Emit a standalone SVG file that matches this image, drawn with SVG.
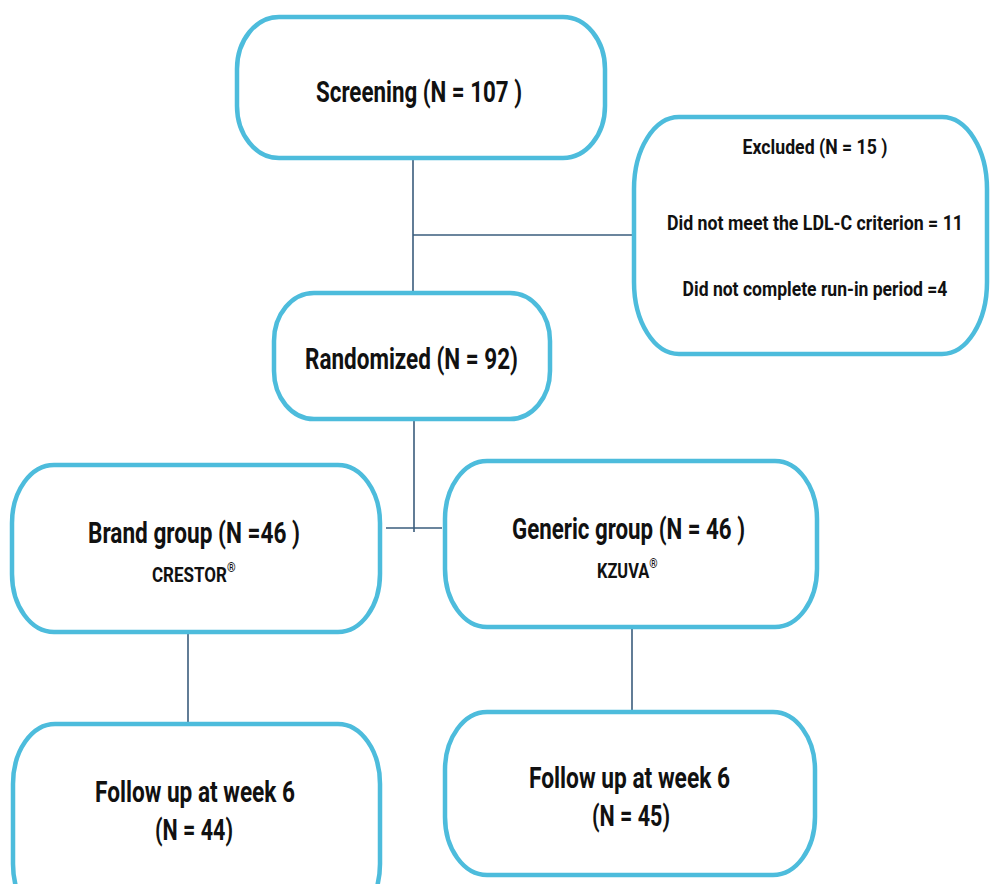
<svg xmlns="http://www.w3.org/2000/svg" width="990" height="884" viewBox="0 0 990 884">
<style>
.box{fill:#ffffff;stroke:#4dbcdc;stroke-width:4.5}
.t{font-family:Roboto,"Liberation Sans",sans-serif;font-weight:700;fill:#111111}
.c{stroke:#3a5c7c;stroke-width:1.6;fill:none}
</style>
<rect width="990" height="884" fill="#ffffff"/>
<g id="connectors">
<line class="c" x1="413" y1="158" x2="413" y2="295"/>
<line class="c" x1="413" y1="235" x2="634" y2="235"/>
<line class="c" x1="414" y1="419" x2="414" y2="532"/>
<line class="c" x1="386" y1="528" x2="442" y2="528"/>
<line class="c" x1="188" y1="632" x2="188" y2="724"/>
<line class="c" x1="632" y1="627" x2="632" y2="712"/>
</g>
<g id="screening">
<rect class="box" x="237" y="17" width="368" height="141" rx="42" ry="52"/>
<text class="t" x="316" y="102" font-size="30" textLength="206" lengthAdjust="spacingAndGlyphs">Screening (N = 107 )</text>
</g>
<g id="excluded">
<rect class="box" x="634" y="117" width="353" height="237" rx="45" ry="72"/>
<g transform="translate(815,0) scale(0.8,1)">
<text class="t" x="0" y="154" font-size="21" text-anchor="middle" textLength="181" lengthAdjust="spacingAndGlyphs">Excluded (N = 15 )</text>
<text class="t" x="0" y="230" font-size="21" text-anchor="middle" textLength="370" lengthAdjust="spacingAndGlyphs">Did not meet  the LDL-C criterion = 11</text>
<text class="t" x="0" y="296" font-size="21" text-anchor="middle" textLength="331" lengthAdjust="spacingAndGlyphs">Did not complete run-in period =4</text>
</g>
</g>
<g id="randomized">
<rect class="box" x="274" y="293" width="276" height="126" rx="40" ry="48"/>
<text class="t" x="305" y="369" font-size="30" textLength="213" lengthAdjust="spacingAndGlyphs">Randomized (N = 92)</text>
</g>
<g id="brand">
<rect class="box" x="12" y="465" width="368" height="167" rx="42" ry="58"/>
<text class="t" x="88" y="543" font-size="29" textLength="212" lengthAdjust="spacingAndGlyphs">Brand group (N =46 )</text>
<text class="t" transform="translate(152,582) scale(0.85,1)" font-size="20">CRESTOR<tspan font-size="13" dy="-10">®</tspan></text>
</g>
<g id="generic">
<rect class="box" x="445" y="461" width="372" height="166" rx="42" ry="58"/>
<text class="t" x="512" y="539" font-size="29" textLength="233" lengthAdjust="spacingAndGlyphs">Generic group (N = 46 )</text>
<text class="t" transform="translate(597,578) scale(0.82,1)" font-size="20">KZUVA<tspan font-size="13" dy="-10">®</tspan></text>
</g>
<g id="followup-brand">
<rect class="box" x="13" y="724" width="367" height="200" rx="42" ry="60"/>
<text class="t" x="95" y="802" font-size="30" textLength="200" lengthAdjust="spacingAndGlyphs">Follow up at week 6</text>
<text class="t" x="155" y="840" font-size="30" textLength="78" lengthAdjust="spacingAndGlyphs">(N = 44)</text>
</g>
<g id="followup-generic">
<rect class="box" x="445" y="712" width="370" height="163" rx="42" ry="58"/>
<text class="t" x="529" y="788" font-size="30" textLength="201" lengthAdjust="spacingAndGlyphs">Follow up at week 6</text>
<text class="t" x="592" y="826" font-size="30" textLength="78" lengthAdjust="spacingAndGlyphs">(N = 45)</text>
</g>
</svg>
